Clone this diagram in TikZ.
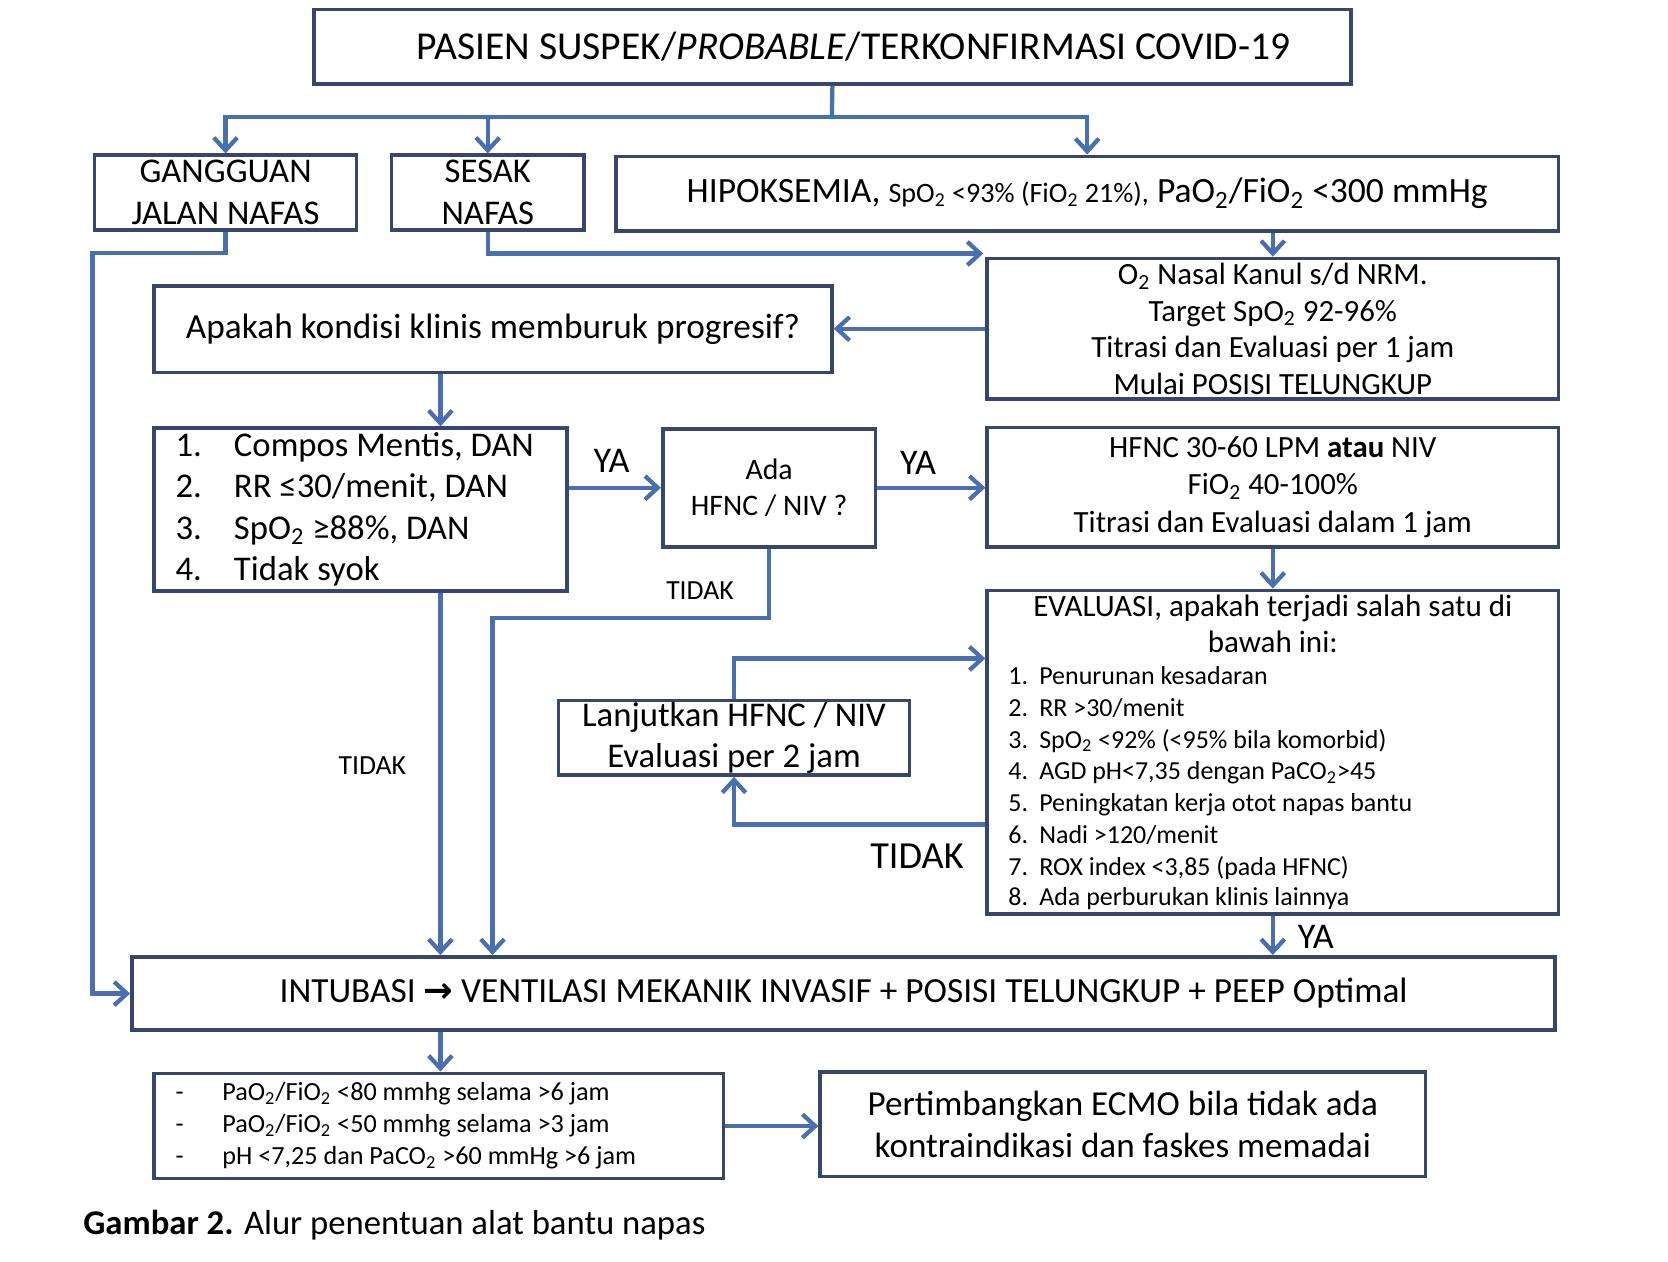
\documentclass[tikz,border=0pt]{standalone}
\usepackage{fontspec}
\setmainfont{Carlito}
\newfontfamily\dejavu{DejaVu Sans}
\usetikzlibrary{arrows.meta,calc}

\definecolor{garis}{HTML}{36466C}
\definecolor{panah}{HTML}{4A6FB0}

\tikzset{
  kotak/.style={draw=garis, line width=1.7pt, fill=white, inner sep=0pt, align=center},
  alur/.style={draw=panah, line width=2pt, -{Straight Barb[length=6pt,width=11pt,line width=2pt]}},
  garisalur/.style={draw=panah, line width=2pt},
  lbl/.style={inner sep=0pt, font=\fontsize{13}{15}\selectfont}
}

\begin{document}
\begin{tikzpicture}[x=0.5pt,y=0.5pt,yscale=-1]
\useasboundingbox (0,0) rectangle (1568,1186);

% Boxes
\node[kotak, minimum width=487.5pt, minimum height=35pt, font=\fontsize{18.6}{22}\selectfont] (pasien) at (782.5,44) {\hspace*{20pt}PASIEN SUSPEK/\textit{PROBABLE}/TERKONFIRMASI COVID-19};
\node[kotak, minimum width=123pt, minimum height=35pt, font=\fontsize{16.3}{19.5}\selectfont] (jalan) at (212,181) {GANGGUAN\\JALAN NAFAS};
\node[kotak, minimum width=90.5pt, minimum height=35pt, font=\fontsize{16.3}{19.5}\selectfont] (sesak) at (458.5,181) {SESAK\\NAFAS};
\node[kotak, minimum width=443pt, minimum height=35pt, font=\fontsize{16.7}{20}\selectfont] (hipoks) at (1022,182) {HIPOKSEMIA, {\fontsize{13.2}{15}\selectfont SpO\textsubscript{2} <93\% (FiO\textsubscript{2} 21\%),} PaO\textsubscript{2}/FiO\textsubscript{2} <300 mmHg};
\node[kotak, minimum width=268.5pt, minimum height=66pt, font=\fontsize{14.5}{17.2}\selectfont] (oksigen) at (1196.5,309) {O\textsubscript{2} Nasal Kanul s/d NRM.\\ Target SpO\textsubscript{2} 92-96\%\\ Titrasi dan Evaluasi per 1 jam\\ Mulai POSISI TELUNGKUP};
\node[kotak, minimum width=318.5pt, minimum height=40.5pt, font=\fontsize{16.6}{19}\selectfont] (buruk) at (463.5,309.5) {Apakah kondisi klinis memburuk progresif?};
\node[kotak, minimum width=194pt, minimum height=76.5pt, text width=174pt, align=flush left, inner xsep=10pt, font=\fontsize{16.3}{19.5}\selectfont] (syarat) at (339,479) {\makebox[27.5pt][l]{1.}Compos Mentis, DAN\\ \makebox[27.5pt][l]{2.}RR ≤30/menit, DAN\\ \makebox[27.5pt][l]{3.}SpO\textsubscript{2} ≥88\%, DAN\\ \makebox[27.5pt][l]{4.}Tidak syok};
\node[kotak, minimum width=100pt, minimum height=55.5pt, font=\fontsize{14}{17}\selectfont] (ada) at (723,458.5) {Ada\\HFNC / NIV ?};
\node[kotak, minimum width=268.5pt, minimum height=56pt, font=\fontsize{14.5}{17.5}\selectfont] (hfnc) at (1196.5,458) {HFNC 30-60 LPM \textbf{atau} NIV\\ FiO\textsubscript{2} 40-100\%\\ Titrasi dan Evaluasi dalam 1 jam};
\node[kotak, minimum width=268.5pt, minimum height=152pt, text width=248.5pt, align=flush left, inner xsep=10pt] (evaluasi) at (1196.5,707) {\centering\fontsize{14.6}{17}\selectfont EVALUASI, apakah terjadi salah satu di\\ bawah ini:\par
  \raggedright\fontsize{12.2}{15}\selectfont
  \makebox[14.5pt][l]{1.}Penurunan kesadaran\\
  \makebox[14.5pt][l]{2.}RR >30/menit\\
  \makebox[14.5pt][l]{3.}SpO\textsubscript{2} <92\% (<95\% bila komorbid)\\
  \makebox[14.5pt][l]{4.}AGD pH<7,35 dengan PaCO\textsubscript{2}>45\\
  \makebox[14.5pt][l]{5.}Peningkatan kerja otot napas bantu\\
  \makebox[14.5pt][l]{6.}Nadi >120/menit\\
  \makebox[14.5pt][l]{7.}ROX index <3,85 (pada HFNC)\\[2pt]
  \makebox[14.5pt][l]{8.}Ada perburukan klinis lainnya};
\node[kotak, minimum width=165pt, minimum height=35pt, font=\fontsize{16.3}{19.5}\selectfont] (lanjut) at (690,693.5) {Lanjutkan HFNC / NIV\\ Evaluasi per 2 jam};
\node[kotak, minimum width=669pt, minimum height=34.5pt, font=\fontsize{16.6}{20}\selectfont] (intubasi) at (793,934) {INTUBASI {\dejavu\bfseries →} VENTILASI MEKANIK INVASIF + POSISI TELUNGKUP + PEEP Optimal};
\node[kotak, minimum width=267.5pt, minimum height=49.5pt, text width=247.5pt, inner xsep=10pt, align=flush left, font=\fontsize{12.3}{15}\selectfont] (gagal) at (412.5,1058.5) {\makebox[22pt][l]{-}PaO\textsubscript{2}/FiO\textsubscript{2} <80 mmhg selama >6 jam\\ \makebox[22pt][l]{-}PaO\textsubscript{2}/FiO\textsubscript{2} <50 mmhg selama >3 jam\\ \makebox[22pt][l]{-}pH <7,25 dan PaCO\textsubscript{2} >60 mmHg >6 jam};
\node[kotak, minimum width=284.5pt, minimum height=49pt, font=\fontsize{16.5}{19.5}\selectfont] (ecmo) at (1055.5,1057) {Pertimbangkan ECMO bila tidak ada\\ kontraindikasi dan faskes memadai};

% Text Node
\node[anchor=west, inner sep=0pt, font=\fontsize{16.3}{19}\selectfont] (judul) at (78,1152) {\textbf{Gambar 2.} Alur penentuan alat bantu napas};
\node[lbl, font=\fontsize{17}{20}\selectfont] (ya1) at (575,433) {YA};
\node[lbl, font=\fontsize{17}{20}\selectfont] (ya2) at (863,435) {YA};
\node[lbl] (tidak1) at (658,555) {TIDAK};
\node[lbl] (tidak2) at (350,720) {TIDAK};
\node[lbl, font=\fontsize{18}{21}\selectfont] (tidak3) at (862,805) {TIDAK};
\node[lbl, font=\fontsize{17}{20}\selectfont] (ya3) at (1237,881) {YA};

% Branch points
\coordinate (cabang) at (782,110);
\coordinate (kiri) at (87,238);
\coordinate (jalur) at (414,0);
\coordinate (belok) at (463,581);
\coordinate (balik) at (0,775);
\coordinate (lanjutan) at (0,619);

%Straight Lines
\draw[garisalur] (pasien.south) -- (cabang);
\draw[alur] (cabang) -| (jalan.north);
\draw[alur] (cabang) -| (sesak.north);
\draw[alur] (cabang) -| (hipoks.north);
\draw[alur] (jalan.south) |- (kiri) |- (intubasi.west);
\draw[alur] (sesak.south) |- ($(oksigen.north west)+(-2,-3)$);
\draw[alur] (hipoks.south -| oksigen.north) -- (oksigen.north);
\draw[alur] (oksigen.west) -- (oksigen.west -| buruk.east);
\draw[alur] (buruk.south -| jalur) -- (syarat.north -| jalur);
\draw[alur] (syarat.east |- ada.west) -- (ada.west);
\draw[alur] (ada.east) -- (hfnc.west |- ada.east);
\draw[alur] (hfnc.south) -- (evaluasi.north);
\draw[alur] (ada.south) |- (belok) -- (belok |- intubasi.north);
\draw[alur] (syarat.south -| jalur) -- (intubasi.north -| jalur);
\draw[alur] (evaluasi.west |- balik) -| (lanjut.south);
\draw[alur] (lanjut.north) |- (evaluasi.west |- lanjutan);
\draw[alur] (evaluasi.south) -- (intubasi.north -| evaluasi.south);
\draw[alur] (intubasi.south -| jalur) -- (gagal.north -| jalur);
\draw[alur] (gagal.east) -- (gagal.east -| ecmo.west);

\end{tikzpicture}
\end{document}
